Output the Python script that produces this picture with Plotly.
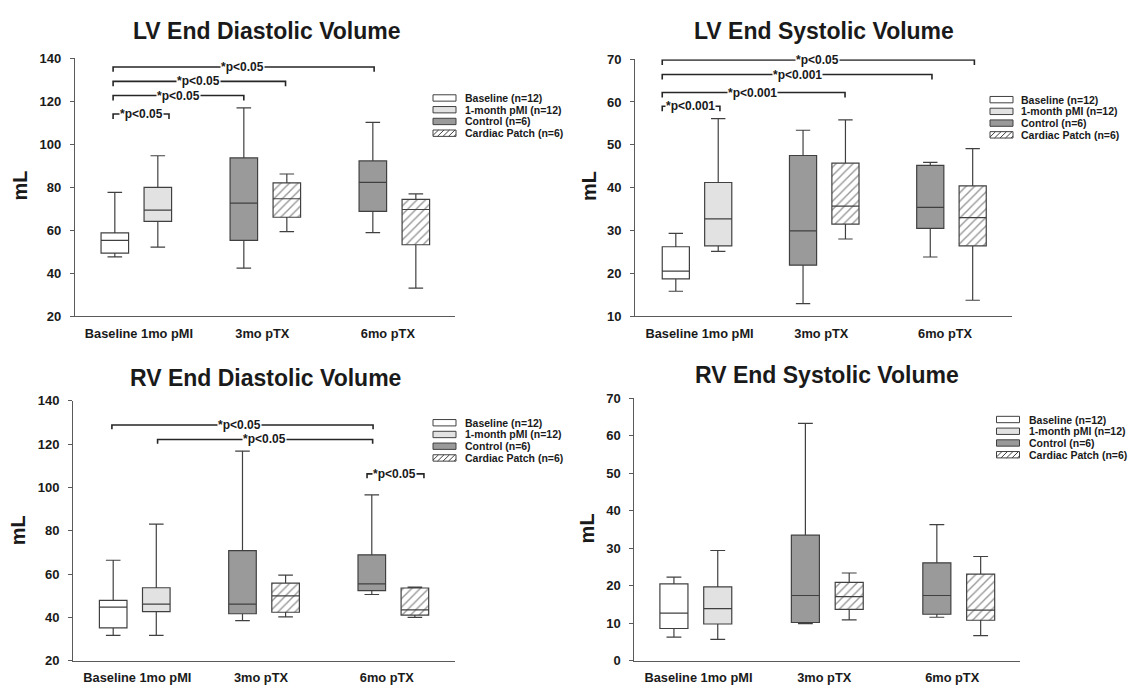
import plotly.graph_objects as go

W, H = 1129, 688

# ---------------- data ----------------
groups = ["Baseline (n=12)", "1-month pMI (n=12)", "Control (n=6)", "Cardiac Patch (n=6)"]
categories = ["Baseline 1mo pMI", "3mo pTX", "6mo pTX"]
titles = ["LV End Diastolic Volume", "LV End Systolic Volume",
          "RV End Diastolic Volume", "RV End Systolic Volume"]

# x positions of boxes
pos_baseline = [1]
pos_1mo = [2]
pos_control = [4, 7]
pos_patch = [5, 8]
cat_tick_pos = [1.56, 4.43, 7.35]

# five-number summaries: [lower whisker, Q1, median, Q3, upper whisker]
LVEDV_baseline = [[47.6, 49.3, 55.2, 58.7, 77.6]]
LVEDV_1mo = [[52.1, 64.1, 69.3, 79.9, 94.6]]
LVEDV_control = [[42.3, 55.2, 72.6, 93.6, 116.9], [58.8, 68.7, 82.2, 92.2, 110.1]]
LVEDV_patch = [[59.3, 66.0, 74.6, 82.0, 86.1], [33.0, 53.2, 69.6, 74.3, 76.9]]

LVESV_baseline = [[15.8, 18.7, 20.5, 26.2, 29.3]]
LVESV_1mo = [[25.1, 26.4, 32.7, 41.2, 56.1]]
LVESV_control = [[12.9, 21.9, 29.9, 47.5, 53.4], [23.8, 30.5, 35.4, 45.2, 45.9]]
LVESV_patch = [[28.0, 31.5, 35.7, 45.7, 55.8], [13.7, 26.4, 33.0, 40.4, 49.1]]

RVEDV_baseline = [[31.7, 35.2, 44.8, 47.9, 66.4]]
RVEDV_1mo = [[31.7, 42.7, 46.1, 53.7, 83.1]]
RVEDV_control = [[38.5, 41.7, 46.1, 70.9, 116.8], [50.6, 52.4, 55.5, 68.9, 96.6]]
RVEDV_patch = [[40.3, 42.4, 50.0, 55.8, 59.5], [40.0, 41.1, 43.5, 53.6, 54.0]]

RVESV_baseline = [[6.3, 8.6, 12.7, 20.5, 22.3]]
RVESV_1mo = [[5.7, 9.8, 13.9, 19.7, 29.4]]
RVESV_control = [[9.9, 10.2, 17.4, 33.5, 63.3], [11.6, 12.4, 17.4, 26.1, 36.3]]
RVESV_patch = [[10.9, 13.7, 17.1, 20.9, 23.4], [6.7, 10.8, 13.5, 23.1, 27.8]]

# significance brackets: (x left, x right, y, label, label x)
LVEDV_sig = [(0.96, 7.03, 135.9, "*p<0.05", 3.98),
             (0.96, 4.97, 129.2, "*p<0.05", 2.94),
             (0.96, 4.00, 122.6, "*p<0.05", 2.48),
             (0.96, 2.26, 114.0, "*p<0.05", 1.61)]
LVESV_sig = [(0.68, 8.04, 69.8, "*p<0.05", 4.35),
             (0.68, 7.04, 66.4, "*p<0.001", 3.88),
             (0.68, 4.99, 62.2, "*p<0.001", 2.81),
             (0.68, 2.04, 59.0, "*p<0.001", 1.35)]
RVEDV_sig = [(0.97, 7.03, 128.9, "*p<0.05", 3.93),
             (2.03, 7.02, 122.2, "*p<0.05", 4.51),
             (6.89, 8.21, 106.3, "*p<0.05", 7.53)]
RVESV_sig = []

# ---------------- layout config ----------------
fills = ["#ffffff", "#e2e2e2", "#9a9a9a", "#ffffff"]
LINE = "#404040"
AX = "#5a5a5a"
TXT = "#1a1a1a"
FONT = "Liberation Sans, Arial, sans-serif"

panels = [
    dict(data=(LVEDV_baseline, LVEDV_1mo, LVEDV_control, LVEDV_patch), sig=LVEDV_sig,
         px=(75, 455.4), py=(52.3, 316), xr=(0.074, 8.92), yr=(20, 140), dt=20,
         title=(267, 24.5), ml=(19.6, 183), leg=(433, 93, 462.5), tick=5),
    dict(data=(LVESV_baseline, LVESV_1mo, LVESV_control, LVESV_patch), sig=LVESV_sig,
         px=(635.1, 1011.7), py=(53.3, 316), xr=(0.04, 8.92), yr=(10, 70), dt=10,
         title=(824, 25), ml=(589, 183), leg=(990, 94.7, 1019), tick=5),
    dict(data=(RVEDV_baseline, RVEDV_1mo, RVEDV_control, RVEDV_patch), sig=RVEDV_sig,
         px=(73.2, 455.4), py=(402.7, 668.3), xr=(0.072, 8.94), yr=(20, 140), dt=20,
         title=(265.7, 379.3), ml=(18, 535), leg=(433, 425, 462.5), tick=4.5),
    dict(data=(RVESV_baseline, RVESV_1mo, RVESV_control, RVESV_patch), sig=RVESV_sig,
         px=(634.4, 1020.1), py=(400, 668.3), xr=(0.098, 8.9), yr=(0, 70), dt=10,
         title=(827, 375.7), ml=(587, 533), leg=(996.5, 421.7, 1027.3), tick=5),
]
positions = [pos_baseline, pos_1mo, pos_control, pos_patch]


def pxx(v):
    return v / W


def pxy(v):
    return 1 - v / H


fig = go.Figure()
annotations = []
shapes = []
layout_axes = {}

for i, p in enumerate(panels):
    n = "" if i == 0 else str(i + 1)
    xa, ya = "x" + n, "y" + n
    # hatched fill under the cardiac patch boxes
    patch = p["data"][3]
    fig.add_trace(go.Bar(
        x=pos_patch, base=[s[1] for s in patch], y=[s[3] - s[1] for s in patch],
        width=0.64, xaxis=xa, yaxis=ya, showlegend=False, hoverinfo="skip",
        marker=dict(color="white", line=dict(width=0),
                    pattern=dict(shape="/", fgcolor="#333333", bgcolor="white",
                                 size=6, solidity=0.24))))
    for g, (stats, pos) in enumerate(zip(p["data"], positions)):
        fig.add_trace(go.Box(
            x=pos, lowerfence=[s[0] for s in stats], q1=[s[1] for s in stats],
            median=[s[2] for s in stats], q3=[s[3] for s in stats],
            upperfence=[s[4] for s in stats], width=0.64, whiskerwidth=0.53,
            fillcolor=("rgba(0,0,0,0)" if g == 3 else fills[g]),
            line=dict(color=LINE, width=1.2), boxpoints=False,
            xaxis=xa, yaxis=ya, showlegend=False, name=groups[g]))
    # brackets
    d = p["tick"] * (p["yr"][1] - p["yr"][0]) / (p["py"][1] - p["py"][0])
    bx, by = [], []
    for (xl, xr_, yv, lab, lx) in p["sig"]:
        bx += [xl, xl, xr_, xr_, None]
        by += [yv - d, yv, yv, yv - d, None]
        annotations.append(dict(x=lx, y=yv, xref=xa, yref=ya, showarrow=False,
                                xanchor="center", yanchor="middle",
                                text="<b>" + lab.replace("<", "&lt;") + "</b>",
                                font=dict(family=FONT, size=12, color=TXT),
                                bgcolor="white", borderpad=0))
    if bx:
        fig.add_trace(go.Scatter(x=bx, y=by, mode="lines", xaxis=xa, yaxis=ya,
                                 line=dict(color="#262626", width=1.6),
                                 showlegend=False, hoverinfo="skip"))
    # axes
    layout_axes["xaxis" + n] = dict(
        domain=[pxx(p["px"][0]), pxx(p["px"][1])], range=list(p["xr"]), anchor=ya,
        showline=True, linecolor=AX, linewidth=1.2, showgrid=False, zeroline=False,
        ticks="", tickvals=cat_tick_pos, ticktext=["<b>" + c + "</b>" for c in categories],
        tickfont=dict(family=FONT, size=12.8, color=TXT), ticklabelstandoff=5,
        fixedrange=True)
    layout_axes["yaxis" + n] = dict(
        domain=[pxy(p["py"][1]), pxy(p["py"][0])], range=list(p["yr"]), anchor=xa,
        showline=True, linecolor=AX, linewidth=1.2, showgrid=False, zeroline=False,
        ticks="outside", ticklen=4, tickwidth=1, tickcolor=AX, dtick=p["dt"],
        tickfont=dict(family=FONT, size=13, color=TXT, weight="bold"),
        ticklabelstandoff=6, fixedrange=True)
    # title & y label
    annotations.append(dict(x=pxx(p["title"][0]), y=pxy(p["title"][1]), xref="paper", yref="paper",
                            xanchor="center", yanchor="middle",
                            text="<b>" + titles[i] + "</b>", showarrow=False,
                            font=dict(family=FONT, size=23, color=TXT)))
    annotations.append(dict(x=pxx(p["ml"][0]), y=pxy(p["ml"][1]), xref="paper", yref="paper",
                            xanchor="center", yanchor="middle",
                            text="<b>mL</b>", showarrow=False, textangle=-90,
                            font=dict(family=FONT, size=20, color=TXT)))
    # legend (drawn as shapes + text)
    lx0, ly0, tx = p["leg"]
    rw, rh, step = 23, 6.5, 12
    for g in range(4):
        cy = ly0 + g * step
        x0, x1, y0, y1 = lx0, lx0 + rw, cy - rh / 2, cy + rh / 2
        shapes.append(dict(type="rect", xref="paper", yref="paper",
                           x0=pxx(x0), x1=pxx(x1), y0=pxy(y1), y1=pxy(y0),
                           fillcolor=fills[g], line=dict(color=LINE, width=1)))
        if g == 3:
            path = ""
            s = 5.5
            a = x0 - rh
            while a < x1:
                sx, sy = a, y1
                ex, ey = a + rh, y0
                if sx < x0:
                    sy = y1 - (x0 - sx)
                    sx = x0
                if ex > x1:
                    ey = y0 + (ex - x1)
                    ex = x1
                if ex > sx:
                    path += "M%.5f,%.5f L%.5f,%.5f " % (pxx(sx), pxy(sy), pxx(ex), pxy(ey))
                a += s
            shapes.append(dict(type="path", xref="paper", yref="paper", path=path,
                               line=dict(color=LINE, width=1)))
        annotations.append(dict(x=pxx(tx), y=pxy(cy), xref="paper", yref="paper",
                                xanchor="left", yanchor="middle",
                                text="<b>" + groups[g] + "</b>",
                                showarrow=False,
                                font=dict(family=FONT, size=10.5, color=TXT)))

fig.update_layout(
    width=W, height=H, margin=dict(l=0, r=0, t=0, b=0),
    paper_bgcolor="white", plot_bgcolor="white",
    showlegend=False, barmode="overlay", boxmode="overlay",
    annotations=annotations, shapes=shapes, **layout_axes)

fig.write_html("out.html", config={"displayModeBar": False},
               post_script="document.body.style.margin='0';document.body.style.overflow='hidden';")
